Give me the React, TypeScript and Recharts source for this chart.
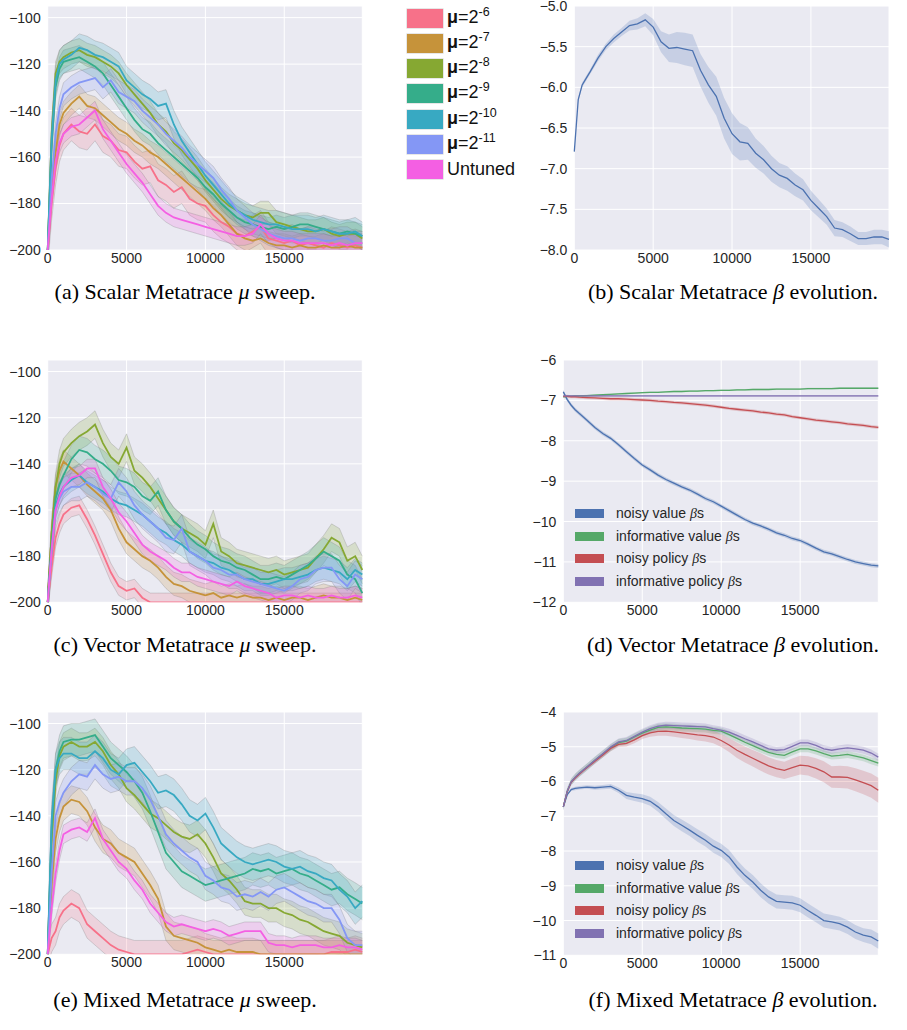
import React from "react"
import { ComposedChart, Line, Area, XAxis, YAxis, CartesianGrid } from "recharts"

// training steps shared by every panel (finer at the start, where curves rise fast)
const STEPS = [
  0, 250, 500, 750, 1000, 1500, 2000, 2500, 3000, 3500, 4000, 4500,
  5000, 5500, 6000, 6500, 7000, 7500, 8000, 8500, 9000, 9500,
  10000, 10500, 11000, 11500, 12000, 12500, 13000, 13500, 14000, 14500,
  15000, 15500, 16000, 16500, 17000, 17500, 18000, 18500, 19000, 19500,
  19950,
]
const X_TICKS = [0, 5000, 10000, 15000]

const MU_KEYS = ["mu6", "mu7", "mu8", "mu9", "mu10", "mu11", "untuned"]
const MU_EXPS = ["-6", "-7", "-8", "-9", "-10", "-11", ""]
const MU_COLORS = ["#f77189", "#c6933a", "#86a832", "#35ad8a", "#38a9c2", "#8497f5", "#f45fe3"]

const BETA_KEYS = ["noisyValue", "infValue", "noisyPolicy", "infPolicy"]
const BETA_LABELS = ["noisy value", "informative value", "noisy policy", "informative policy"]
const BETA_COLORS = ["#4c72b0", "#55a868", "#c44e52", "#8172b2"]

// (a) scalar metatrace, mean return per mu
const A_MU6 = [
  -200, -180, -165, -155, -150, -146, -149, -150, -146, -151, -153, -157,
  -158, -162, -165, -164, -170, -172, -175, -173, -178, -180,
  -181, -185, -188, -190, -193, -194, -192, -190, -195, -196,
  -197, -196, -198, -197, -198, -199, -197, -198, -199, -198,
  -199,
]
const A_MU7 = [
  -200, -175, -158, -146, -141, -137, -134, -138, -139, -142, -145, -148,
  -150, -153, -155, -158, -160, -163, -166, -169, -172, -175,
  -178, -182, -185, -189, -193, -195, -196, -195, -197, -198,
  -198, -199, -198, -199, -199, -198, -199, -199, -198, -199,
  -199,
]
const A_MU8 = [
  -200, -150, -124, -119, -117, -115, -114, -116, -117, -119, -121, -124,
  -129, -133, -137, -141, -146, -149, -154, -157, -161, -165,
  -170, -174, -178, -181, -183, -185, -186, -184, -184, -188,
  -189, -190, -191, -192, -192, -191, -193, -194, -193, -193,
  -195,
]
const A_MU9 = [
  -200, -155, -130, -122, -119, -118, -117, -119, -121, -124, -129, -134,
  -139, -144, -148, -150, -154, -157, -160, -163, -166, -169,
  -173, -176, -180, -183, -186, -188, -189, -190, -191, -190,
  -191, -190, -189, -189, -190, -191, -192, -193, -192, -193,
  -194,
]
const A_MU10 = [
  -200, -152, -127, -120, -118, -116, -113, -114, -116, -117, -119, -121,
  -127, -130, -133, -135, -138, -137, -146, -153, -158, -163,
  -168, -172, -176, -180, -183, -185, -187, -188, -189, -189,
  -190, -191, -191, -191, -192, -191, -192, -193, -193, -192,
  -194,
]
const A_MU11 = [
  -200, -170, -150, -139, -133, -130, -128, -127, -126, -130, -127, -132,
  -134, -136, -140, -143, -146, -150, -153, -156, -160, -163,
  -166, -169, -174, -178, -183, -186, -189, -191, -193, -194,
  -195, -195, -196, -195, -195, -196, -196, -195, -195, -197,
  -197,
]
const A_UNTUNED = [
  -200, -178, -162, -154, -150, -147, -146, -143, -140, -148, -153, -158,
  -163, -167, -171, -176, -181, -184, -186, -187, -188, -189,
  -190, -191, -192, -193, -194, -194, -193, -189, -193, -195,
  -196, -196, -197, -197, -197, -197, -198, -197, -198, -197,
  -197,
]
const A_SPREAD = [7, 5, 5, 5, 6, 5, 4]

// (c) vector metatrace
const C_MU6 = [
  -200, -185, -172, -166, -162, -159, -158, -164, -171, -179, -187, -193,
  -195, -194, -198, -200, -200, -200, -200, -200, -200, -200,
  -200, -200, -200, -200, -200, -200, -200, -200, -200, -200,
  -200, -200, -200, -200, -200, -200, -200, -200, -200, -200,
  -200,
]
const C_MU7 = [
  -200, -170, -150, -143, -139, -142, -145, -149, -152, -155, -160, -168,
  -174, -177, -180, -182, -185, -189, -192, -193, -195, -196,
  -197, -196, -198, -197, -198, -197, -198, -198, -199, -198,
  -199, -198, -198, -199, -198, -197, -198, -198, -199, -198,
  -199,
]
const C_MU8 = [
  -200, -170, -150, -140, -135, -131, -128, -126, -123, -131, -137, -140,
  -133, -143, -146, -150, -155, -160, -165, -168, -170, -172,
  -175, -166, -178, -180, -183, -184, -185, -186, -187, -186,
  -188, -187, -186, -185, -181, -177, -172, -174, -182, -180,
  -186,
]
const C_MU9 = [
  -200, -175, -155, -149, -145, -138, -134, -135, -138, -140, -143, -147,
  -148, -150, -154, -156, -152, -160, -165, -168, -172, -175,
  -177, -180, -182, -183, -185, -186, -188, -190, -190, -189,
  -190, -188, -186, -184, -181, -178, -180, -182, -188, -190,
  -196,
]
const C_MU10 = [
  -200, -176, -158, -153, -150, -147, -145, -148, -150, -152, -155, -157,
  -158, -160, -162, -165, -168, -170, -173, -175, -178, -180,
  -182, -183, -185, -186, -188, -190, -190, -192, -192, -191,
  -190, -190, -189, -188, -186, -185, -186, -187, -190, -186,
  -188,
]
const C_MU11 = [
  -200, -178, -160, -155, -152, -150, -150, -148, -150, -153, -155, -148,
  -152, -158, -162, -165, -168, -172, -173, -168, -178, -180,
  -182, -185, -186, -188, -188, -190, -191, -192, -193, -194,
  -195, -193, -190, -189, -186, -185, -185, -190, -193, -188,
  -190,
]
const C_UNTUNED = [
  -200, -177, -160, -154, -150, -146, -145, -142, -142, -150, -155, -161,
  -165, -170, -175, -178, -180, -182, -185, -187, -187, -189,
  -190, -191, -192, -193, -191, -193, -194, -195, -196, -198,
  -197, -197, -198, -197, -198, -198, -197, -198, -198, -197,
  -198,
]
const C_SPREAD = [4, 5, 6, 6, 5, 6, 4]

// (e) mixed metatrace
const E_MU6 = [
  -200, -193, -190, -184, -181, -178, -180, -187, -190, -193, -196, -198,
  -199, -200, -200, -200, -200, -200, -200, -200, -199, -198,
  -199, -200, -200, -200, -200, -200, -200, -200, -200, -200,
  -200, -200, -200, -200, -200, -200, -199, -199, -199, -198,
  -199,
]
const E_MU7 = [
  -200, -170, -150, -141, -136, -133, -134, -138, -145, -150, -152, -156,
  -158, -160, -165, -170, -176, -188, -192, -193, -194, -195,
  -197, -198, -199, -198, -199, -199, -199, -200, -200, -200,
  -200, -200, -200, -200, -200, -200, -200, -200, -200, -200,
  -200,
]
const E_MU8 = [
  -200, -150, -125, -114, -110, -108, -110, -110, -108, -112, -118, -122,
  -128, -131, -135, -139, -141, -144, -147, -149, -150, -148,
  -152, -158, -165, -168, -172, -177, -178, -178, -180, -180,
  -182, -183, -185, -186, -188, -190, -191, -192, -195, -196,
  -197,
]
const E_MU9 = [
  -200, -145, -120, -112, -108, -107, -107, -106, -105, -110, -115, -118,
  -121, -125, -130, -138, -147, -156, -160, -164, -166, -168,
  -170, -169, -168, -167, -166, -165, -163, -164, -163, -165,
  -164, -163, -165, -166, -168, -170, -172, -171, -174, -176,
  -178,
]
const E_MU10 = [
  -200, -142, -120, -115, -113, -113, -115, -115, -112, -115, -120, -122,
  -118, -117, -121, -125, -130, -129, -131, -135, -140, -142,
  -139, -145, -152, -155, -158, -160, -161, -160, -159, -160,
  -162, -163, -162, -164, -165, -167, -168, -172, -175, -180,
  -177,
]
const E_MU11 = [
  -200, -165, -140, -134, -130, -125, -122, -123, -118, -122, -124, -123,
  -125, -125, -128, -133, -140, -148, -152, -155, -158, -160,
  -166, -168, -171, -172, -175, -174, -175, -173, -175, -172,
  -171, -173, -175, -177, -178, -180, -180, -185, -193, -196,
  -196,
]
const E_UNTUNED = [
  -200, -180, -165, -155, -148, -146, -145, -147, -141, -150, -155, -160,
  -163, -168, -172, -178, -182, -186, -188, -187, -188, -189,
  -190, -189, -190, -192, -191, -190, -190, -190, -195, -196,
  -196, -197, -196, -196, -196, -197, -197, -196, -197, -197,
  -198,
]
const E_SPREAD = [6, 6, 6, 7, 7, 6, 4]

// (b) scalar beta
const B_MEAN = [
  -6.79, -6.15, -5.97, -5.89, -5.81, -5.64, -5.5, -5.4, -5.32, -5.24, -5.22, -5.17,
  -5.26, -5.44, -5.52, -5.51, -5.53, -5.55, -5.79, -5.97, -6.11, -6.38,
  -6.57, -6.67, -6.69, -6.81, -6.89, -7.0, -7.08, -7.12, -7.2, -7.26,
  -7.39, -7.49, -7.59, -7.73, -7.75, -7.8, -7.86, -7.86, -7.84, -7.84,
  -7.87,
]
const B_SPREAD = [
  0, 0.02, 0.03, 0.03, 0.03, 0.04, 0.04, 0.05, 0.05, 0.06, 0.07, 0.08,
  0.1, 0.13, 0.17, 0.19, 0.2, 0.2, 0.2, 0.22, 0.24, 0.25,
  0.25, 0.23, 0.2, 0.18, 0.17, 0.16, 0.15, 0.15, 0.14, 0.13,
  0.12, 0.11, 0.1, 0.1, 0.09, 0.09, 0.08, 0.08, 0.09, 0.09,
  0.1,
]

// (d) vector betas
const D_NOISY_VALUE = [
  -6.79, -6.98, -7.12, -7.23, -7.32, -7.49, -7.67, -7.82, -7.94, -8.1, -8.27, -8.44,
  -8.6, -8.72, -8.85, -8.96, -9.05, -9.14, -9.22, -9.32, -9.43, -9.51,
  -9.62, -9.73, -9.84, -9.95, -10.04, -10.11, -10.19, -10.28, -10.34, -10.42,
  -10.47, -10.56, -10.66, -10.75, -10.8, -10.87, -10.94, -11.0, -11.04, -11.08,
  -11.1,
]
const D_INF_VALUE = [
  -6.91, -6.9, -6.9, -6.89, -6.89, -6.88, -6.87, -6.86, -6.85, -6.84, -6.83, -6.82,
  -6.81, -6.8, -6.8, -6.79, -6.78, -6.78, -6.77, -6.77, -6.76, -6.76,
  -6.75, -6.75, -6.74, -6.74, -6.73, -6.73, -6.73, -6.72, -6.72, -6.72,
  -6.72, -6.71, -6.71, -6.71, -6.71, -6.7, -6.7, -6.7, -6.7, -6.7,
  -6.7,
]
const D_NOISY_POLICY = [
  -6.9, -6.9, -6.91, -6.91, -6.92, -6.93, -6.94, -6.95, -6.96, -6.96, -6.97, -6.98,
  -6.99, -7.0, -7.02, -7.03, -7.05, -7.06, -7.08, -7.1, -7.12, -7.14,
  -7.17, -7.2, -7.22, -7.24, -7.26, -7.29, -7.31, -7.34, -7.36, -7.4,
  -7.43, -7.46, -7.49, -7.51, -7.53, -7.55, -7.58, -7.6, -7.62, -7.65,
  -7.67,
]
const D_INF_POLICY = [
  -6.89, -6.89, -6.89, -6.89, -6.89, -6.89, -6.89, -6.89, -6.89, -6.89, -6.89, -6.89,
  -6.89, -6.89, -6.89, -6.89, -6.89, -6.89, -6.89, -6.89, -6.89, -6.89,
  -6.89, -6.89, -6.89, -6.89, -6.89, -6.89, -6.89, -6.89, -6.89, -6.89,
  -6.89, -6.89, -6.89, -6.89, -6.89, -6.89, -6.89, -6.89, -6.89, -6.89,
  -6.89,
]
const D_SPREAD = [0.05, 0.02, 0.04, 0.02]

// (f) mixed betas
const F_NOISY_VALUE = [
  -6.73, -6.38, -6.23, -6.2, -6.18, -6.16, -6.18, -6.16, -6.14, -6.25, -6.4, -6.45,
  -6.49, -6.57, -6.73, -6.93, -7.12, -7.26, -7.4, -7.55, -7.69, -7.86,
  -7.98, -8.17, -8.46, -8.7, -8.89, -9.13, -9.32, -9.45, -9.47, -9.49,
  -9.56, -9.71, -9.85, -10.0, -10.04, -10.09, -10.19, -10.33, -10.42, -10.47,
  -10.59,
]
const F_INF_VALUE = [
  -6.73, -6.28, -6.01, -5.88, -5.77, -5.58, -5.39, -5.21, -5.03, -4.88, -4.84, -4.72,
  -4.61, -4.52, -4.44, -4.43, -4.44, -4.46, -4.47, -4.48, -4.49, -4.53,
  -4.55, -4.65, -4.76, -4.87, -4.97, -5.07, -5.16, -5.22, -5.25, -5.15,
  -5.06, -5.06, -5.12, -5.2, -5.27, -5.25, -5.22, -5.27, -5.32, -5.4,
  -5.47,
]
const F_NOISY_POLICY = [
  -6.73, -6.29, -6.02, -5.9, -5.79, -5.6, -5.42, -5.24, -5.05, -4.93, -4.9, -4.8,
  -4.68, -4.6, -4.56, -4.55, -4.57, -4.6, -4.63, -4.66, -4.68, -4.72,
  -4.82, -4.95, -5.1, -5.22, -5.33, -5.44, -5.55, -5.63, -5.68, -5.6,
  -5.53, -5.55, -5.62, -5.72, -5.87, -5.87, -5.88, -5.95, -6.03, -6.12,
  -6.25,
]
const F_INF_POLICY = [
  -6.73, -6.28, -6.01, -5.88, -5.77, -5.58, -5.39, -5.2, -5.01, -4.86, -4.82, -4.7,
  -4.58, -4.48, -4.41, -4.38, -4.39, -4.4, -4.41, -4.42, -4.43, -4.48,
  -4.52, -4.58, -4.67, -4.77, -4.86, -4.96, -5.06, -5.1, -5.08, -4.99,
  -4.89, -4.89, -4.96, -5.06, -5.1, -5.06, -5.03, -5.06, -5.1, -5.18,
  -5.3,
]
const F_NOISY_VALUE_SPREAD = [
  0.02, 0.03, 0.04, 0.05, 0.05, 0.05, 0.06, 0.06, 0.07, 0.08, 0.1, 0.11,
  0.12, 0.13, 0.14, 0.15, 0.16, 0.17, 0.17, 0.18, 0.18, 0.19,
  0.19, 0.2, 0.2, 0.2, 0.2, 0.2, 0.2, 0.2, 0.2, 0.2,
  0.2, 0.2, 0.2, 0.2, 0.2, 0.2, 0.2, 0.2, 0.2, 0.21,
  0.22,
]
const F_NOISY_POLICY_SPREAD = [
  0.02, 0.03, 0.04, 0.05, 0.05, 0.05, 0.06, 0.07, 0.08, 0.08, 0.09, 0.1,
  0.1, 0.11, 0.12, 0.13, 0.14, 0.15, 0.15, 0.16, 0.17, 0.18,
  0.19, 0.2, 0.22, 0.23, 0.24, 0.25, 0.25, 0.25, 0.25, 0.26,
  0.27, 0.28, 0.29, 0.3, 0.31, 0.32, 0.32, 0.33, 0.34, 0.35,
  0.36,
]

const SANS = "'Liberation Sans', Arial, sans-serif"
const SERIF = "'Liberation Serif', 'Times New Roman', serif"
const MINUS = "\u2212"

type Series = { key: string; color: string; values: number[]; spread: number | number[] }

const intFmt = (v: number) => (v < 0 ? MINUS + Math.abs(v) : String(v))
const oneDec = (v: number) => (v < 0 ? MINUS + Math.abs(v).toFixed(1) : v.toFixed(1))

const TOP_PAD = 12

function Panel(props: {
  left: number; plotTop: number; plotBottom: number; width: number
  yw: number; right: number; domain: [number, number]; yTicks: number[]
  fmt: (v: number) => string; series: Series[]; lineW: number; bandOpacity: number
  bandEdge: boolean
}) {
  const { series } = props
  const rows = STEPS.map((x, i) => {
    const r: any = { x }
    series.forEach(s => {
      const hw = Array.isArray(s.spread) ? s.spread[i] : s.spread
      r[s.key] = s.values[i]
      r[s.key + "_band"] = [s.values[i] - hw, s.values[i] + hw]
    })
    return r
  })
  const top = props.plotTop - TOP_PAD
  const height = props.plotBottom + 25 - top
  const tick = { fill: "#262626", fontSize: 14, fontFamily: SANS }
  return (
    <div style={{ position: "absolute", left: props.left, top }}>
      <ComposedChart width={props.width} height={height} data={rows}
        margin={{ top: TOP_PAD, right: props.right, bottom: 0, left: 0 }}>
        <CartesianGrid fill="#eaeaf2" stroke="#ffffff" strokeWidth={1} />
        <XAxis dataKey="x" type="number" domain={[0, 19950]} ticks={X_TICKS} height={25}
          tickSize={0} tickMargin={3} axisLine={false} tick={tick} interval={0} />
        <YAxis type="number" domain={props.domain} ticks={props.yTicks} width={props.yw}
          tickSize={0} tickMargin={7} axisLine={false} tick={tick} interval={0}
          tickFormatter={props.fmt} allowDataOverflow />
        {series.map(s => [
          <Area key={s.key + "_a"} type="linear" dataKey={s.key + "_band"} fill={s.color}
            fillOpacity={props.bandOpacity} stroke={props.bandEdge ? "#777" : "none"}
            strokeOpacity={0.45} strokeWidth={0.6} isAnimationActive={false} activeDot={false} />,
          <Line key={s.key + "_l"} type="linear" dataKey={s.key} stroke={s.color}
            strokeWidth={props.lineW} dot={false} isAnimationActive={false} activeDot={false} />,
        ])}
      </ComposedChart>
    </div>
  )
}

const muSeries = (vals: number[][], spread: number[]): Series[] =>
  MU_KEYS.map((k, i) => ({ key: k, color: MU_COLORS[i], values: vals[i], spread: spread[i] }))

const betaSeries = (vals: number[][], spread: (number | number[])[]): Series[] =>
  BETA_KEYS.map((k, i) => ({ key: k, color: BETA_COLORS[i], values: vals[i], spread: spread[i] }))

function MuLegend() {
  return (
    <div style={{ position: "absolute", left: 406.5, top: 9 }}>
      {MU_KEYS.map((k, i) => (
        <div key={k} style={{ position: "absolute", left: 0, top: i * 25.15, height: 19,
          display: "flex", alignItems: "center", whiteSpace: "nowrap" }}>
          <div style={{ width: 36.5, height: 19, background: MU_COLORS[i], boxShadow: "0 0 0 0.6px #d8d8d8" }} />
          <span style={{ marginLeft: 4, fontFamily: SANS, fontSize: 18, lineHeight: "19px", color: "#111" }}>
            {MU_EXPS[i] ? (
              <>
                <b>μ</b>=2
                <span style={{ fontSize: 12.5, position: "relative", top: -7 }}>{MU_EXPS[i]}</span>
              </>
            ) : "Untuned"}
          </span>
        </div>
      ))}
    </div>
  )
}

function BetaLegend({ top }: { top: number }) {
  return (
    <div style={{ position: "absolute", left: 575, top }}>
      {BETA_KEYS.map((k, i) => (
        <div key={k} style={{ position: "absolute", left: 0, top: i * 22.5 - 9, height: 18,
          display: "flex", alignItems: "center", whiteSpace: "nowrap" }}>
          <div style={{ width: 29, height: 9, background: BETA_COLORS[i] }} />
          <span style={{ marginLeft: 12, fontFamily: SANS, fontSize: 14, color: "#262626" }}>
            {BETA_LABELS[i]} <i style={{ fontFamily: SERIF }}>β</i>s
          </span>
        </div>
      ))}
    </div>
  )
}

function Caption({ cx, cy, letter, name, sym, tail }: { cx: number; cy: number; letter: string; name: string; sym: string; tail: string }) {
  return (
    <div style={{ position: "absolute", left: cx - 220, top: cy - 13, width: 440, textAlign: "center",
      fontFamily: SERIF, fontSize: 22, lineHeight: "26px", color: "#000", whiteSpace: "nowrap" }}>
      ({letter}) {name} Metatrace <i>{sym}</i> {tail}
    </div>
  )
}

export default function App() {
  const muTicks = [-200, -180, -160, -140, -120, -100]
  return (
    <div style={{ position: "relative", width: 907, height: 1030, background: "#fff", overflow: "hidden" }}>
      <style>{"body{margin:0}"}</style>
      <Panel left={0} plotTop={6} plotBottom={250} width={370} yw={47.7} right={7.7} domain={[-200, -95]}
        yTicks={muTicks} fmt={intFmt} lineW={1.8} bandOpacity={0.2} bandEdge
        series={muSeries([A_MU6, A_MU7, A_MU8, A_MU9, A_MU10, A_MU11, A_UNTUNED], A_SPREAD)} />
      <Panel left={0} plotTop={360} plotBottom={602.3} width={370} yw={47.7} right={7.7} domain={[-200, -95]}
        yTicks={muTicks} fmt={intFmt} lineW={1.8} bandOpacity={0.2} bandEdge
        series={muSeries([C_MU6, C_MU7, C_MU8, C_MU9, C_MU10, C_MU11, C_UNTUNED], C_SPREAD)} />
      <Panel left={0} plotTop={711.7} plotBottom={954} width={370} yw={47.7} right={7.7} domain={[-200, -95]}
        yTicks={muTicks} fmt={intFmt} lineW={1.8} bandOpacity={0.2} bandEdge
        series={muSeries([E_MU6, E_MU7, E_MU8, E_MU9, E_MU10, E_MU11, E_UNTUNED], E_SPREAD)} />
      <Panel left={530} plotTop={6} plotBottom={250} width={370} yw={44.3} right={11} domain={[-8, -5]}
        yTicks={[-8, -7.5, -7, -6.5, -6, -5.5, -5]} fmt={oneDec} lineW={1.3} bandOpacity={0.22} bandEdge={false}
        series={[{ key: "beta", color: BETA_COLORS[0], values: B_MEAN, spread: B_SPREAD }]} />
      <Panel left={520} plotTop={360} plotBottom={602.3} width={370} yw={43.3} right={11.7} domain={[-12, -6]}
        yTicks={[-12, -11, -10, -9, -8, -7, -6]} fmt={intFmt} lineW={1.3} bandOpacity={0.25} bandEdge={false}
        series={betaSeries([D_NOISY_VALUE, D_INF_VALUE, D_NOISY_POLICY, D_INF_POLICY], D_SPREAD)} />
      <Panel left={520} plotTop={711.7} plotBottom={955} width={370} yw={43.3} right={11.7} domain={[-11, -4]}
        yTicks={[-11, -10, -9, -8, -7, -6, -5, -4]} fmt={intFmt} lineW={1.3} bandOpacity={0.22} bandEdge={false}
        series={betaSeries([F_NOISY_VALUE, F_INF_VALUE, F_NOISY_POLICY, F_INF_POLICY],
          [F_NOISY_VALUE_SPREAD, 0.1, F_NOISY_POLICY_SPREAD, 0.1])} />
      <MuLegend />
      <BetaLegend top={513.7} />
      <BetaLegend top={865.7} />
      <Caption cx={185} cy={292} letter="a" name="Scalar" sym="μ" tail="sweep." />
      <Caption cx={733} cy={292} letter="b" name="Scalar" sym="β" tail="evolution." />
      <Caption cx={185} cy={645} letter="c" name="Vector" sym="μ" tail="sweep." />
      <Caption cx={733} cy={645} letter="d" name="Vector" sym="β" tail="evolution." />
      <Caption cx={185} cy={1000} letter="e" name="Mixed" sym="μ" tail="sweep." />
      <Caption cx={733} cy={1000} letter="f" name="Mixed" sym="β" tail="evolution." />
    </div>
  )
}
